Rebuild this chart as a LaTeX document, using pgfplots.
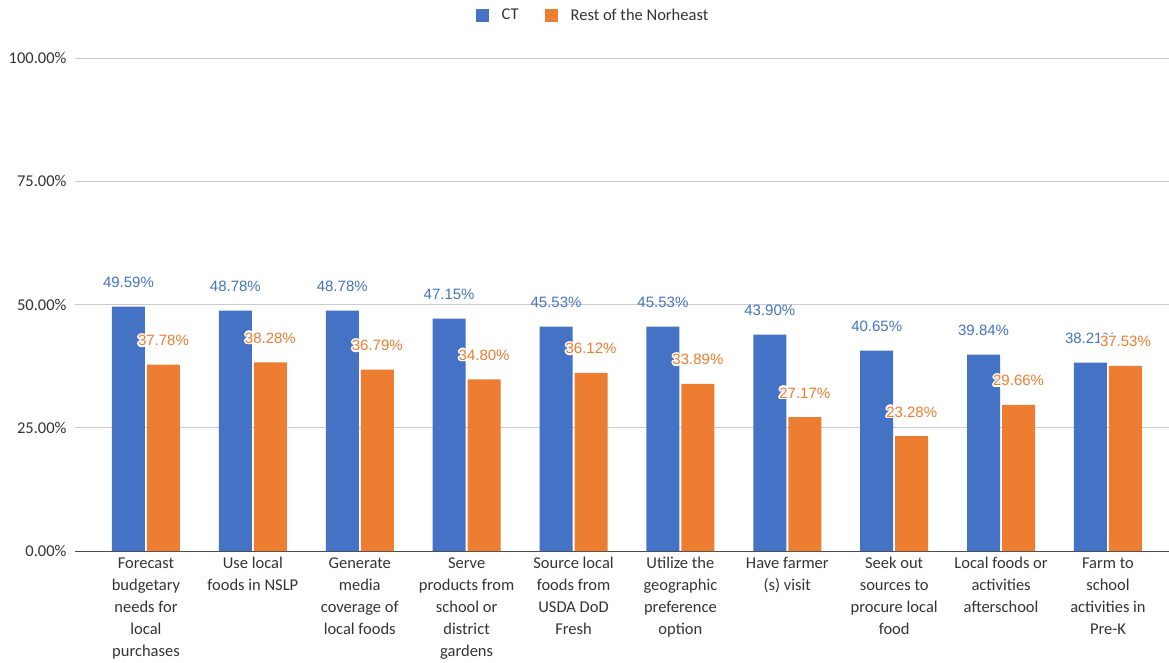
\documentclass[border=0pt]{standalone}
\usepackage{fontspec}
\setmainfont{Carlito}
\newfontfamily\lblfont{Liberation Sans}
\usepackage{pgfplots}
\usepackage{pgfplotstable}
\pgfplotsset{compat=1.18}
\usepackage{contour}
\contourlength{1.5pt}
\definecolor{ctblue}{HTML}{4472C4}
\definecolor{neorange}{HTML}{ED7D31}
\definecolor{txt}{HTML}{333333}
\newcommand\nnc{\pgfmathprintnumber[fixed,fixed zerofill,precision=2]{\pgfplotspointmeta}\%}
\pgfplotstableread{
x ct ne
0 49.59 37.78
1 48.78 38.28
2 48.78 36.79
3 47.15 34.80
4 45.53 36.12
5 45.53 33.89
6 43.90 27.17
7 40.65 23.28
8 39.84 29.66
9 38.21 37.53
}\datatable
\begin{document}
\begin{tikzpicture}
\path[use as bounding box] (0,0) rectangle (1169pt,662pt);
\begin{axis}[
  at={(75pt,111pt)}, anchor=south west,
  scale only axis, width=1094pt, height=493pt,
  xmin=-0.664, xmax=9.571, ymin=0, ymax=100,
  ybar=2pt, bar width=33pt,
  ytick={0,25,50,75,100},
  /pgf/number format/assume math mode=true,
  yticklabel={\pgfmathprintnumber[fixed,fixed zerofill,precision=2]{\tick}\%},
  yticklabel style={font=\fontsize{16.5}{20}\selectfont, text=txt, xshift=-5pt},
  ymajorgrids, grid style={color=black!20, line width=0.8pt},
  axis x line*=bottom, axis y line*=left,
  x axis line style={draw=black!70, line width=1pt, -},
  y axis line style={draw=none},
  major tick length=0pt,
  xtick=data,
  xticklabels={
    {Forecast\\budgetary\\needs for\\local\\purchases},
    {Use local\\foods in NSLP},
    {Generate\\media\\coverage of\\local foods},
    {Serve\\products from\\school or\\district\\gardens},
    {Source local\\foods from\\USDA DoD\\Fresh},
    {Utilize the\\geographic\\preference\\option},
    {Have farmer\\(s) visit},
    {Seek out\\sources to\\procure local\\food},
    {Local foods or\\activities\\afterschool},
    {Farm to\\school\\activities in\\Pre-K}},
  xticklabel style={font=\fontsize{16.5}{22}\selectfont, text=txt, align=center, anchor=north, yshift=-3pt},
  nodes near coords={\nnc},
  nodes near coords style={font=\lblfont\fontsize{15}{18}\selectfont, anchor=base, yshift=19pt},
  legend style={at={(0.4735,1.087)}, anchor=center, draw=none, legend columns=2,
    font=\fontsize{16.5}{20}\selectfont, text=txt,
    /tikz/every odd column/.append style={column sep=11pt},
    /tikz/every even column/.append style={column sep=24pt}},
  legend image code/.code={\fill[#1] (0pt,-6.5pt) rectangle (13pt,6.5pt);},
  clip=false,
]
\addplot[fill=ctblue, draw=none,
  nodes near coords style={text=ctblue}] table[x=x, y=ct] {\datatable};
\addlegendentry{CT}
\addplot[fill=neorange, draw=none,
  nodes near coords={\contour{white}{\nnc}},
  nodes near coords style={text=neorange}] table[x=x, y=ne] {\datatable};
\addlegendentry{Rest of the Norheast}
\end{axis}
\end{tikzpicture}
\end{document}
